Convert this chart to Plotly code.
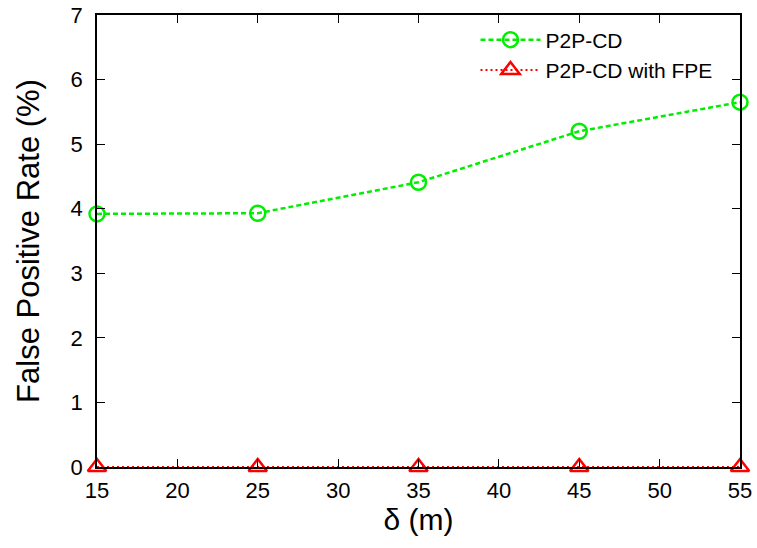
import plotly.graph_objects as go

delta = [15, 25, 35, 45, 55]
p2pcd = [3.92, 3.93, 4.41, 5.2, 5.65]
p2pcd_fpe = [0, 0, 0, 0, 0]

FONT = "Liberation Sans, Arial, sans-serif"

fig = go.Figure()
fig.add_trace(go.Scatter(
    x=delta, y=p2pcd, name="P2P-CD", mode="lines+markers",
    line=dict(color="#00ee00", width=2.5, dash="5px,3px"),
    marker=dict(symbol="circle-open", size=15, color="#00ee00", line=dict(width=2.5)),
    cliponaxis=False))
fig.add_trace(go.Scatter(
    x=delta, y=p2pcd_fpe, name="P2P-CD with FPE", mode="lines+markers",
    line=dict(color="#ff0000", width=2, dash="2px,3px"),
    marker=dict(symbol="triangle-up-open", size=16, color="#ff0000", line=dict(width=2.5)),
    cliponaxis=False))

axis_common = dict(
    showgrid=False, zeroline=False, showline=True, linecolor="black", linewidth=1.5,
    mirror="allticks", ticks="inside", ticklen=8, tickcolor="black", tickwidth=1,
    tickfont=dict(family=FONT, size=22, color="black"), automargin=False,
)
fig.update_xaxes(range=[15, 55], tick0=15, dtick=5, ticklabelstandoff=3,
                 title=dict(text="δ (m)", font=dict(family=FONT, size=30, color="black"), standoff=5),
                 **axis_common)
fig.update_yaxes(range=[0, 7], dtick=1, ticklabelstandoff=8,
                 title=dict(text="False Positive Rate (%)", font=dict(family=FONT, size=31, color="black"), standoff=22),
                 **axis_common)

fig.update_layout(
    width=757, height=548,
    margin=dict(l=97, r=17, t=15, b=81),
    plot_bgcolor="white", paper_bgcolor="white",
    legend=dict(x=0.965, y=0.99, xanchor="right", yanchor="top",
                bgcolor="rgba(0,0,0,0)",
                font=dict(family=FONT, size=21, color="black"),
                itemwidth=60, tracegroupgap=0),
    showlegend=True,
)

fig.write_html("out.html")
